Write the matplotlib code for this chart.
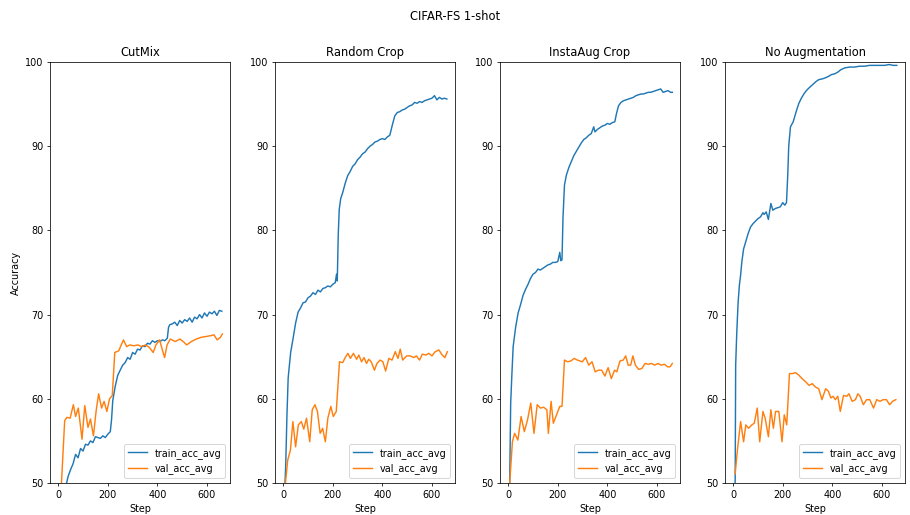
import matplotlib
matplotlib.use("Agg")
import matplotlib.pyplot as plt

titles = ["CutMix", "Random Crop", "InstaAug Crop", "No Augmentation"]

# ---- CutMix ----
cm_train_x = [30, 40, 50, 60, 70, 80, 90, 100, 110, 120, 130, 140, 150, 160, 170, 180, 190, 200, 210, 215,
              220, 230, 240, 250, 260, 270, 280, 290, 300, 310, 320, 330, 340, 350, 360, 370, 380, 390, 400,
              410, 420, 430, 440, 445, 450, 460, 470, 480, 490, 500, 510, 520, 530, 540, 550, 560, 570, 580,
              590, 600, 610, 620, 630, 640, 650, 660]
cm_train_y = [49.5, 50.8, 51.6, 52.3, 53.4, 53.0, 54.1, 53.8, 54.6, 54.5, 55.0, 54.8, 55.5, 55.4, 55.3, 55.6,
              55.4, 55.8, 56.1, 57.5, 59.8, 61.5, 62.8, 63.4, 64.0, 64.3, 64.9, 64.7, 65.5, 65.3, 65.9, 65.8,
              66.3, 66.2, 66.6, 66.5, 66.9, 66.7, 66.9, 66.8, 67.0, 66.9, 67.2, 68.5, 68.8, 68.9, 69.1, 68.7,
              69.3, 69.0, 69.4, 69.2, 69.6, 69.1, 69.7, 69.5, 70.0, 69.6, 70.2, 69.8, 70.3, 70.1, 70.4, 69.9,
              70.5, 70.4]
cm_val_x = [0, 13, 26, 35, 48, 61, 70, 81, 96, 107, 120, 130, 142, 153, 163, 175, 185, 196, 207, 218, 228,
            244, 263, 276, 289, 305, 322, 335, 352, 368, 383, 394, 409, 420, 429, 439, 452, 472, 491, 508,
            518, 537, 557, 576, 596, 615, 628, 641, 654, 662]
cm_val_y = [44.0, 50.0, 57.4, 57.8, 57.7, 59.3, 57.9, 58.9, 55.2, 59.2, 56.6, 57.6, 55.6, 58.6, 60.6, 58.9,
            59.7, 58.5, 60.0, 60.4, 65.5, 65.7, 67.0, 66.2, 66.4, 66.3, 66.4, 66.2, 66.4, 66.1, 65.5, 66.4,
            67.0, 65.8, 64.9, 66.4, 67.1, 66.8, 67.1, 66.7, 66.4, 66.8, 67.1, 67.3, 67.4, 67.5, 67.6, 67.0,
            67.3, 67.7]

# ---- Random Crop ----
rc_train_x = [0, 10, 15, 20, 25, 30, 40, 50, 60, 70, 80, 90, 100, 110, 120, 130, 140, 150, 160, 170, 180,
              190, 200, 210, 215, 218, 222, 226, 232, 240, 250, 260, 270, 280, 290, 300, 310, 320, 330, 340,
              350, 360, 370, 380, 390, 400, 410, 420, 430, 440, 450, 460, 470, 480, 490, 500, 510, 520, 530,
              540, 550, 560, 570, 580, 590, 600, 610, 620, 630, 640, 650, 660]
rc_train_y = [45.0, 52.0, 58.0, 62.5, 64.0, 65.5, 67.2, 69.0, 70.3, 70.8, 71.4, 71.5, 72.0, 72.2, 72.6, 72.4,
              72.9, 72.7, 73.1, 73.2, 73.4, 73.3, 73.6, 73.8, 74.8, 74.0, 79.5, 82.5, 83.8, 84.5, 85.6, 86.5,
              87.0, 87.6, 87.9, 88.4, 88.7, 89.1, 89.3, 89.7, 90.0, 90.2, 90.5, 90.6, 90.8, 90.9, 90.8, 91.1,
              91.3, 92.5, 93.6, 94.0, 94.1, 94.3, 94.4, 94.6, 94.8, 94.9, 95.2, 95.1, 95.3, 95.2, 95.4, 95.5,
              95.6, 95.7, 96.0, 95.5, 95.8, 95.6, 95.7, 95.6]
rc_val_x = [0, 9, 18, 29, 39, 50, 61, 73, 83, 94, 107, 117, 128, 138, 149, 159, 170, 180, 192, 202, 214,
            227, 240, 250, 261, 271, 283, 296, 305, 316, 326, 336, 345, 355, 368, 378, 391, 402, 413, 426,
            439, 452, 463, 472, 482, 498, 511, 527, 537, 550, 561, 576, 587, 600, 613, 628, 641, 652, 662]
rc_val_y = [44.0, 50.0, 52.7, 53.9, 57.3, 54.3, 56.9, 57.3, 56.4, 57.7, 54.9, 58.7, 59.3, 58.5, 55.9, 56.5,
            54.9, 57.7, 59.1, 57.9, 58.5, 64.4, 64.3, 64.9, 65.4, 64.8, 65.4, 64.7, 65.2, 64.4, 64.9, 64.2,
            64.7, 64.4, 63.4, 64.2, 64.6, 64.4, 63.3, 64.8, 64.6, 65.6, 64.8, 65.9, 64.6, 65.1, 65.1, 64.9,
            65.1, 64.6, 65.3, 65.2, 65.4, 65.1, 65.6, 65.8, 65.2, 64.9, 65.6]

# ---- InstaAug Crop ----
ia_train_x = [0, 6, 10, 15, 20, 30, 40, 50, 60, 70, 80, 90, 100, 110, 120, 130, 140, 150, 160, 170, 180,
              190, 200, 208, 212, 217, 221, 227, 235, 245, 255, 265, 275, 285, 295, 305, 315, 325, 335, 345,
              350, 360, 370, 380, 390, 400, 410, 420, 430, 437, 445, 455, 465, 475, 485, 495, 505, 515, 525,
              535, 545, 555, 565, 575, 585, 595, 605, 615, 625, 635, 645, 655, 662]
ia_train_y = [45.0, 50.0, 59.5, 63.0, 66.2, 68.5, 70.2, 71.2, 72.3, 73.0, 73.6, 74.3, 74.8, 75.0, 75.4, 75.3,
              75.5, 75.7, 75.9, 76.0, 76.2, 76.2, 76.3, 77.4, 76.4, 76.5, 81.5, 85.4, 86.6, 87.5, 88.2, 88.9,
              89.4, 89.9, 90.4, 90.8, 91.0, 91.3, 91.5, 92.3, 91.7, 92.0, 92.2, 92.4, 92.5, 92.7, 92.6, 92.8,
              92.9, 93.9, 94.8, 95.2, 95.4, 95.5, 95.6, 95.7, 95.8, 96.0, 96.1, 96.2, 96.2, 96.3, 96.4, 96.4,
              96.5, 96.6, 96.7, 96.8, 96.4, 96.5, 96.6, 96.4, 96.4]
ia_val_x = [0, 6, 17, 26, 39, 52, 65, 78, 91, 104, 117, 130, 143, 156, 162, 173, 182, 195, 208, 217, 227,
            240, 253, 266, 279, 299, 312, 325, 338, 351, 364, 377, 390, 403, 416, 429, 438, 451, 464, 474,
            484, 494, 503, 513, 526, 539, 552, 565, 578, 591, 604, 617, 630, 643, 653, 662]
ia_val_y = [44.0, 50.0, 54.9, 55.9, 55.1, 57.9, 56.1, 57.5, 59.5, 55.9, 59.3, 58.9, 59.0, 58.7, 55.9, 59.7,
            57.1, 58.1, 59.1, 59.1, 64.6, 64.4, 64.5, 64.8, 64.6, 64.4, 64.9, 64.0, 64.4, 63.2, 63.4, 63.4,
            62.7, 63.7, 62.4, 63.4, 63.2, 64.5, 64.6, 65.1, 64.0, 64.0, 65.1, 64.0, 63.5, 63.6, 64.2, 64.1,
            64.2, 64.0, 64.2, 64.0, 64.1, 63.8, 63.8, 64.2]

# ---- No Augmentation ----
na_train_x = [0, 8, 10, 14, 17, 20, 25, 30, 35, 42, 50, 60, 70, 80, 90, 100, 110, 120, 125, 133, 142, 152,
              160, 170, 180, 190, 200, 208, 215, 220, 224, 231, 242, 255, 265, 275, 285, 295, 305, 320, 335,
              345, 360, 370, 385, 396, 410, 422, 435, 450, 470, 490, 510, 530, 550, 570, 590, 610, 630, 645, 660]
na_train_y = [45.0, 50.2, 64.0, 67.5, 69.6, 71.5, 73.5, 74.7, 76.3, 77.8, 78.6, 79.6, 80.4, 80.8, 81.1, 81.4,
              81.6, 82.1, 81.9, 82.2, 81.3, 83.2, 82.4, 82.6, 82.7, 82.8, 83.3, 83.0, 83.3, 86.5, 90.0, 92.3,
              92.9, 94.2, 95.1, 95.7, 96.2, 96.6, 96.9, 97.3, 97.7, 97.9, 98.0, 98.1, 98.3, 98.5, 98.6, 98.8,
              99.1, 99.3, 99.4, 99.4, 99.5, 99.5, 99.6, 99.6, 99.6, 99.6, 99.7, 99.6, 99.6]
na_val_x = [8, 17, 30, 42, 51, 62, 75, 85, 97, 107, 120, 129, 142, 152, 162, 171, 184, 197, 206, 216, 227,
            239, 252, 265, 278, 293, 306, 319, 332, 345, 358, 373, 384, 394, 403, 412, 422, 432, 445, 458,
            467, 480, 493, 503, 512, 525, 538, 551, 566, 579, 592, 605, 618, 631, 643, 656]
na_val_y = [51.1, 53.9, 57.3, 54.9, 56.9, 56.5, 56.9, 57.1, 58.9, 54.9, 58.5, 57.7, 55.5, 58.7, 56.5, 58.5,
            58.5, 54.9, 58.1, 56.9, 63.0, 63.0, 63.1, 62.8, 62.4, 62.0, 61.6, 61.8, 61.4, 61.2, 59.9, 61.2,
            60.9, 60.1, 60.3, 59.9, 60.3, 58.5, 60.4, 60.3, 60.6, 59.7, 59.9, 60.6, 60.3, 59.3, 59.9, 59.9,
            58.9, 59.9, 59.7, 59.9, 59.9, 59.3, 59.7, 59.9]

train_x = [cm_train_x, rc_train_x, ia_train_x, na_train_x]
train_y = [cm_train_y, rc_train_y, ia_train_y, na_train_y]
val_x = [cm_val_x, rc_val_x, ia_val_x, na_val_x]
val_y = [cm_val_y, rc_val_y, ia_val_y, na_val_y]

DPI = 69
fig, axes = plt.subplots(1, 4, figsize=(910 / DPI, 515 / DPI), dpi=DPI)
fig.subplots_adjust(left=0.055, right=0.9945, top=0.8796, bottom=0.0621, wspace=0.25)
fig.suptitle("CIFAR-FS 1-shot")

for i, ax in enumerate(axes):
    ax.plot(train_x[i], train_y[i], color="#1f77b4", label="train_acc_avg")
    ax.plot(val_x[i], val_y[i], color="#ff7f0e", label="val_acc_avg")
    ax.set_xlim(-33, 693)
    ax.set_ylim(50, 100)
    ax.set_xticks([0, 200, 400, 600])
    ax.set_title(titles[i])
    ax.set_xlabel("Step")
    ax.legend(loc="lower right")
axes[0].set_ylabel("Accuracy")

fig.savefig("out.png", dpi=DPI)
